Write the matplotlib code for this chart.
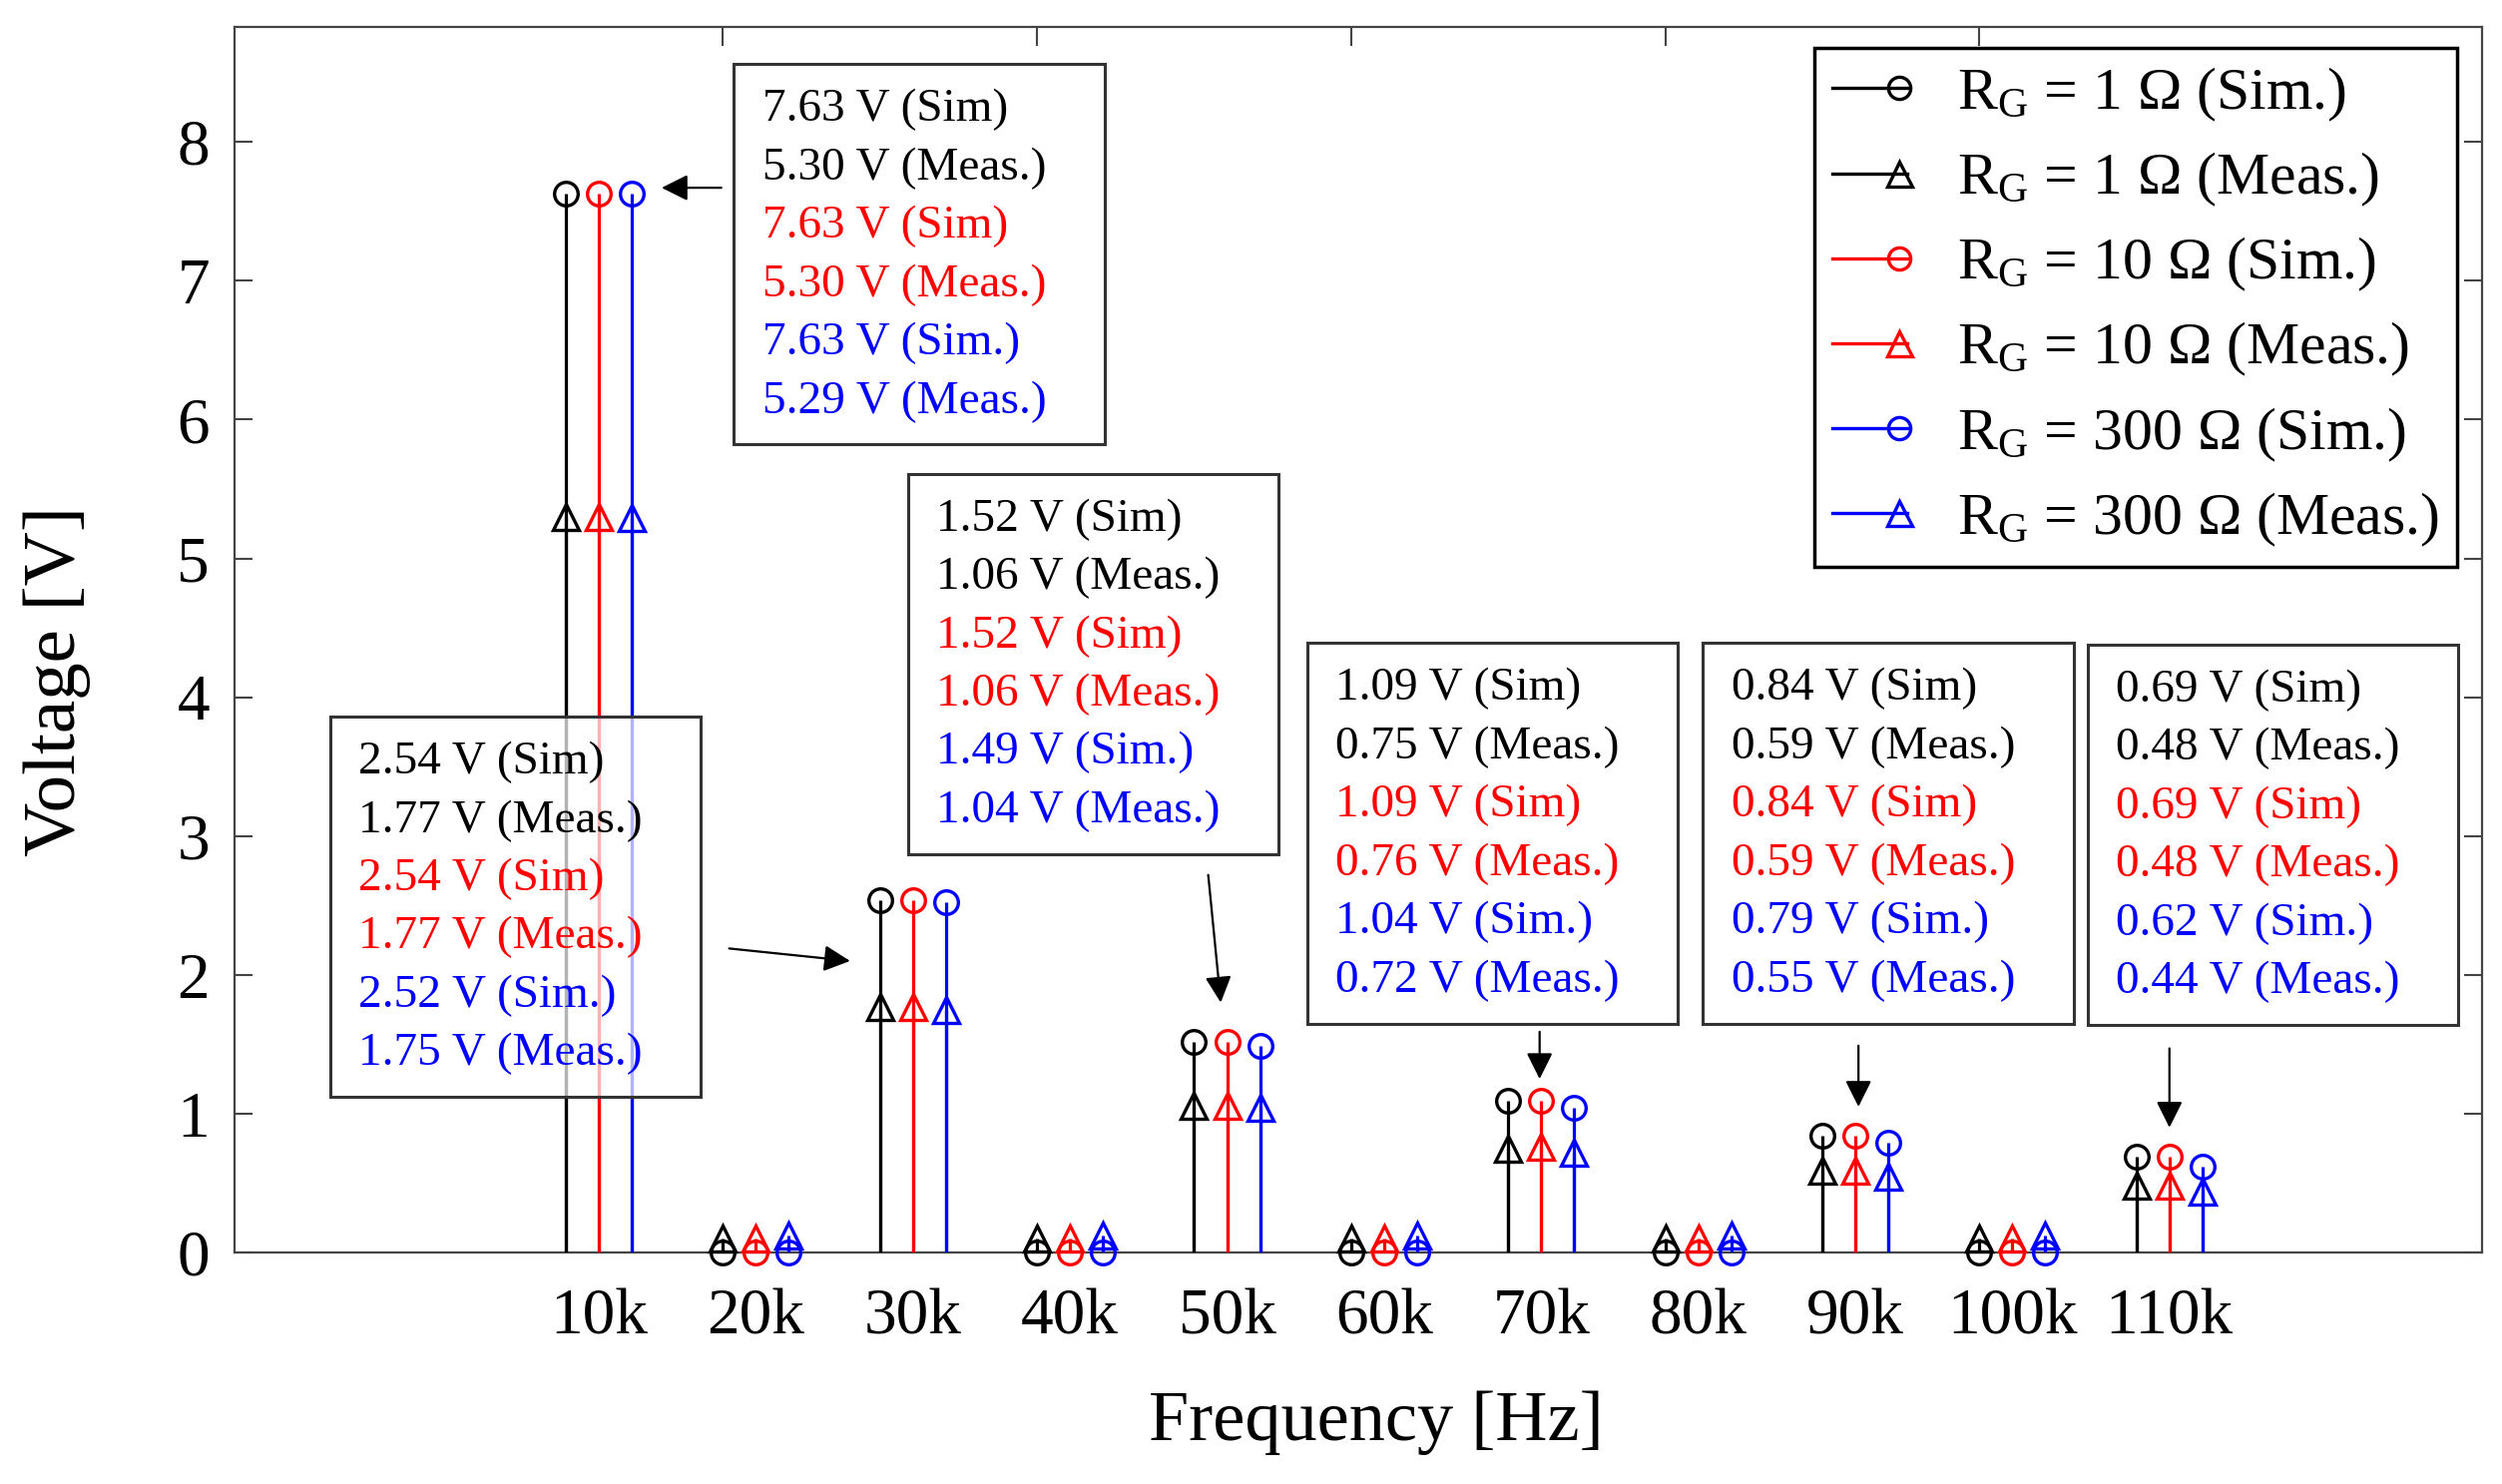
import numpy as np
import matplotlib.pyplot as plt
from matplotlib.lines import Line2D
from matplotlib.patches import Rectangle
from matplotlib.legend_handler import HandlerLine2D

plt.rcParams['font.family'] = ['Liberation Serif', 'DejaVu Serif']
plt.rcParams['mathtext.fontset'] = 'custom'
plt.rcParams['mathtext.rm'] = 'Liberation Serif'
plt.rcParams['mathtext.it'] = 'Liberation Serif:italic'

# dados (frequencia em kHz, tensao em V)
freq_khz = np.array([10, 20, 30, 40, 50, 60, 70, 80, 90, 100, 110])
freq_labels = ['10k', '20k', '30k', '40k', '50k', '60k', '70k', '80k', '90k', '100k', '110k']

resistors = ['1', '10', '300']
sim_1 = [7.63, 0.0, 2.54, 0.0, 1.52, 0.0, 1.09, 0.0, 0.84, 0.0, 0.69]
meas_1 = [5.30, 0.10, 1.77, 0.10, 1.06, 0.10, 0.75, 0.10, 0.59, 0.10, 0.48]
sim_10 = [7.63, 0.0, 2.54, 0.0, 1.52, 0.0, 1.09, 0.0, 0.84, 0.0, 0.69]
meas_10 = [5.30, 0.10, 1.77, 0.10, 1.06, 0.10, 0.76, 0.10, 0.59, 0.10, 0.48]
sim_300 = [7.63, 0.0, 2.52, 0.0, 1.49, 0.0, 1.04, 0.0, 0.79, 0.0, 0.62]
meas_300 = [5.29, 0.12, 1.75, 0.12, 1.04, 0.12, 0.72, 0.12, 0.55, 0.12, 0.44]

sims = [sim_1, sim_10, sim_300]
meass = [meas_1, meas_10, meas_300]
colors = ['black', 'red', 'blue']
offsets = [-2.1, 0.0, 2.1]

# harmonicas anotadas, canto superior esquerdo das caixas e setas (inicio, fim)
annot_idx = [0, 2, 4, 6, 8, 10]
box_corner = [(18.6, 8.56), (-7.1, 3.86), (29.7, 5.61), (55.1, 4.39), (80.3, 4.39), (104.8, 4.38)]
box_w, box_h = 23.6, 2.74
arrows = [((17.8, 7.67), (14.0, 7.67)),
          ((18.3, 2.19), (26.0, 2.10)),
          ((48.8, 2.72), (49.6, 1.80)),
          ((69.9, 1.59), (69.9, 1.25)),
          ((90.2, 1.49), (90.2, 1.05)),
          ((110.0, 1.47), (110.0, 0.90))]


class HandlerEndMarker(HandlerLine2D):
    # linha com o marcador na ponta direita
    def create_artists(self, legend, orig_handle, xdescent, ydescent,
                       width, height, fontsize, trans):
        y = (height - ydescent) / 2
        x0, x1 = -xdescent, width - xdescent
        line = Line2D([x0, x1], [y, y])
        self.update_prop(line, orig_handle, legend)
        line.set_marker('None')
        mark = Line2D([x1 - 0.12 * fontsize], [y])
        self.update_prop(mark, orig_handle, legend)
        mark.set_linestyle('None')
        line.set_transform(trans)
        mark.set_transform(trans)
        return [line, mark]


fig, ax = plt.subplots(figsize=(25.07, 14.87), dpi=100)
fig.subplots_adjust(left=0.0937, right=0.992, bottom=0.156, top=0.982)

handles = []
for r, sim, meas, c, dx in zip(resistors, sims, meass, colors, offsets):
    x = freq_khz + dx
    ax.vlines(x, 0, sim, color=c, lw=2.3, zorder=3)
    ax.vlines(x, 0, meas, color=c, lw=2.3, zorder=3)
    ax.plot(x, sim, 'o', mfc='none', mec=c, ms=17, mew=2.4, clip_on=False, zorder=4)
    ax.plot(x, meas, '^', mfc='none', mec=c, ms=19, mew=2.4, clip_on=False, zorder=4)
    handles.append(Line2D([], [], color=c, lw=2.4, marker='o', mfc='none', mec=c, ms=16, mew=2.4,
                          label=r'R$_\mathrm{G}$ = ' + r + ' Ω (Sim.)'))
    handles.append(Line2D([], [], color=c, lw=2.4, marker='^', mfc='none', mec=c, ms=18, mew=2.4,
                          label=r'R$_\mathrm{G}$ = ' + r + ' Ω (Meas.)'))

# caixas de texto com os valores
for k, (x0, ytop) in enumerate(box_corner):
    i = annot_idx[k]
    ax.add_patch(Rectangle((x0, ytop - box_h), box_w, box_h, facecolor='white', alpha=0.7,
                           edgecolor='none', zorder=5))
    ax.add_patch(Rectangle((x0, ytop - box_h), box_w, box_h, facecolor='none',
                           edgecolor='#333333', lw=2.2, zorder=6))
    lines = []
    for s, m, c in zip(sims, meass, colors):
        tag = '(Sim.)' if c == 'blue' else '(Sim)'
        lines.append((f'{s[i]:.2f} V {tag}', c))
        lines.append((f'{m[i]:.2f} V (Meas.)', c))
    for j, (txt, c) in enumerate(lines):
        ax.text(x0 + 1.8, ytop - 0.33 - j * 0.42, txt, color=c, fontsize=34,
                ha='left', va='center', zorder=7)

for start, end in arrows:
    ax.annotate('', xy=end, xytext=start,
                arrowprops=dict(arrowstyle='-|>', color='black', lw=1.6,
                                mutation_scale=40, shrinkA=0, shrinkB=0),
                zorder=7)

ax.set_xlim(-13.2, 129.9)
ax.set_ylim(0, 8.83)
ax.set_xticks(freq_khz)
ax.set_xticklabels(freq_labels)
ax.set_yticks(range(0, 9))
ax.tick_params(axis='x', length=0, pad=26, labelsize=47)
ax.tick_params(axis='y', direction='in', length=13, width=1.5, color='#444444',
               right=True, pad=18, labelsize=47)

top = ax.secondary_xaxis('top')
top.set_xticks(freq_khz[1::2] + offsets[0], labels=[])
top.tick_params(direction='in', length=14, width=1.5, color='#444444')
top.spines['top'].set_visible(False)

for sp in ax.spines.values():
    sp.set_color('#444444')
    sp.set_linewidth(1.6)

ax.set_xlabel('Frequency [Hz]', fontsize=52)
ax.xaxis.set_label_coords(0.508, -0.112)
ax.xaxis.label.set_va('top')
ax.set_ylabel('Voltage [V]', fontsize=54)
ax.yaxis.set_label_coords(-0.064, 0.466)

leg = ax.legend(handles=handles, loc='upper right', bbox_to_anchor=(0.989, 0.983),
                borderaxespad=0, fontsize=43, frameon=True, fancybox=False, framealpha=1,
                edgecolor='black', handlelength=1.25, handletextpad=0.85,
                labelspacing=0.45, borderpad=0.3,
                handler_map={Line2D: HandlerEndMarker()})
leg.get_frame().set_linewidth(2.5)
leg.set_zorder(8)

fig.savefig('out.png', dpi=100)
